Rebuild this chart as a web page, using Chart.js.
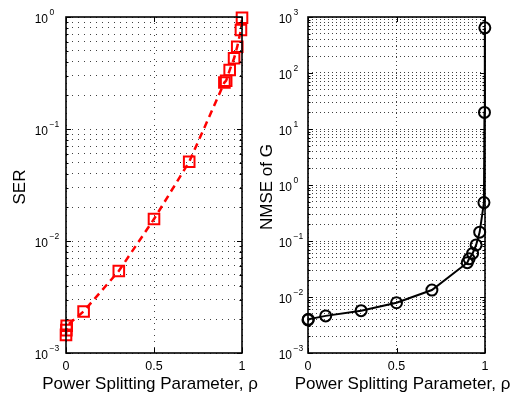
<!DOCTYPE html>
<html><head><meta charset="utf-8">
<script src="https://cdn.jsdelivr.net/npm/chart.js@4.4.0/dist/chart.umd.min.js"></script>
<style>
html,body{margin:0;padding:0;background:#fff;}
#wrap{position:relative;width:519px;height:394px;overflow:hidden;background:#fff;}
canvas{position:absolute;top:0;}
#c1{left:0;} #c2{left:250px;}
</style></head><body>
<div id="wrap">
<canvas id="c1" width="280" height="394"></canvas>
<canvas id="c2" width="269" height="394"></canvas>
</div>
<script>
// ---- data ----
const rhoSER = [0, 0.002, 0.004, 0.1, 0.3, 0.5, 0.7, 0.9, 0.91, 0.93, 0.955, 0.973, 0.994, 1.0];
const serValues = [1.45e-3, 1.6e-3, 1.75e-3, 2.35e-3, 5.4e-3, 1.57e-2, 5.1e-2, 0.26, 0.27, 0.336, 0.428, 0.543, 0.766, 0.985];
const rhoNMSE = [0, 0.002, 0.1, 0.3, 0.5, 0.7, 0.9, 0.91, 0.93, 0.95, 0.97, 0.994, 0.997, 0.999];
const nmseValues = [3.9e-3, 4.0e-3, 4.6e-3, 5.7e-3, 7.9e-3, 1.33e-2, 0.041, 0.048, 0.06, 0.085, 0.144, 0.486, 19.8, 641];
const xTicks = [0, 0.5, 1];
const xTickLabels = ['0', '0.5', '1'];
const serDecades = [-3, -2, -1, 0];
const nmseDecades = [-3, -2, -1, 0, 1, 2, 3];
const xLabel = 'Power Splitting Parameter, \u03C1';
const serLabel = 'SER';
const nmseLabel = 'NMSE of G';

const FONT = '"Liberation Sans", Arial, Helvetica, sans-serif';

function logTicks(decs) {
  const out = [];
  for (let i = 0; i < decs.length; i++) {
    const d = decs[i];
    if (i === decs.length - 1) { out.push({value: Math.pow(10, d)}); break; }
    for (let m = 1; m <= 9; m++) out.push({value: m * Math.pow(10, d), minor: m !== 1});
  }
  return out;
}

function framePlugin(opts) {
  return {
    id: 'frame' + opts.id,
    afterDraw(chart) {
      const ctx = chart.ctx, a = chart.chartArea;
      const xs = chart.scales.x, ys = chart.scales.y;
      ctx.save();
      ctx.strokeStyle = '#000'; ctx.lineWidth = 1;
      ys.ticks.forEach(t => {
        const y = Math.round(ys.getPixelForValue(t.value)) + 0.5;
        const len = t.minor ? 2.5 : 5;
        ctx.beginPath();
        ctx.moveTo(a.left, y); ctx.lineTo(a.left + len, y);
        ctx.moveTo(a.right, y); ctx.lineTo(a.right - len, y);
        ctx.stroke();
      });
      xs.ticks.forEach(t => {
        const x = Math.round(xs.getPixelForValue(t.value)) + 0.5;
        ctx.beginPath();
        ctx.moveTo(x, a.bottom); ctx.lineTo(x, a.bottom - 5);
        ctx.moveTo(x, a.top); ctx.lineTo(x, a.top + 5);
        ctx.stroke();
      });
      ctx.lineWidth = 1.6;
      ctx.strokeRect(a.left, a.top, a.right - a.left, a.bottom - a.top);
      ctx.fillStyle = '#000';
      opts.decades.forEach(d => {
        const y = ys.getPixelForValue(Math.pow(10, d));
        ctx.font = '12px ' + FONT;
        ctx.textAlign = 'right'; ctx.textBaseline = 'alphabetic';
        ctx.fillText('10', opts.tenRight, y + 6);
        ctx.font = '8.5px ' + FONT;
        ctx.textAlign = 'left';
        const e = d < 0 ? '\u2212' + (-d) : String(d);
        ctx.fillText(e, opts.tenRight + 1.5, y - 2);
      });
      ctx.font = '12.5px ' + FONT;
      ctx.textAlign = 'center'; ctx.textBaseline = 'alphabetic';
      xTicks.forEach((v, i) => {
        ctx.fillText(xTickLabels[i], xs.getPixelForValue(v), a.bottom + 17);
      });
      ctx.font = '17px ' + FONT;
      ctx.fillText(xLabel, (a.left + a.right) / 2 + opts.xTitleShift, a.bottom + 36);
      ctx.save();
      ctx.translate(opts.yTitleX, (a.top + a.bottom) / 2 + 2);
      ctx.rotate(-Math.PI / 2);
      ctx.textAlign = 'center'; ctx.textBaseline = 'middle';
      ctx.fillText(opts.yTitle, 0, 0);
      ctx.restore();
      ctx.restore();
    }
  };
}

function makeChart(id, cfg) {
  return new Chart(document.getElementById(id), {
    type: 'scatter',
    data: {
      datasets: [{
        data: cfg.xs.map((x, i) => ({x: x, y: cfg.ys[i]})),
        showLine: true,
        borderColor: cfg.color,
        backgroundColor: 'rgba(0,0,0,0)',
        borderWidth: cfg.lineWidth,
        borderDash: cfg.dash,
        pointStyle: cfg.pointStyle,
        pointRadius: cfg.pointRadius,
        pointHoverRadius: cfg.pointRadius,
        pointBorderWidth: 2,
        pointBorderColor: cfg.color,
        pointBackgroundColor: 'rgba(0,0,0,0)',
        tension: 0,
        clip: false
      }]
    },
    options: {
      responsive: false,
      animation: false,
      events: [],
      layout: {padding: {top: 17, right: cfg.padRight, left: 0, bottom: 0}},
      plugins: {legend: {display: false}, tooltip: {enabled: false}},
      scales: {
        x: {
          type: 'linear', min: 0, max: 1,
          afterBuildTicks: s => { s.ticks = xTicks.map(v => ({value: v})); },
          afterFit: s => { s.height = 41; },
          ticks: {display: false},
          grid: {color: 'rgba(0,0,0,0.75)', lineWidth: 1, drawTicks: false},
          border: {display: false, dash: cfg.gridDash}
        },
        y: {
          type: 'logarithmic',
          min: Math.pow(10, cfg.decades[0]), max: Math.pow(10, cfg.decades[cfg.decades.length - 1]),
          afterBuildTicks: s => { s.ticks = logTicks(cfg.decades); },
          afterFit: s => { s.width = cfg.yWidth; },
          ticks: {display: false},
          grid: {color: 'rgba(0,0,0,0.75)', lineWidth: 1, drawTicks: false},
          border: {display: false, dash: cfg.gridDash}
        }
      }
    },
    plugins: [framePlugin(cfg.frame)]
  });
}

makeChart('c1', {
  xs: rhoSER, ys: serValues, color: '#ff0000', lineWidth: 2.5, dash: [7, 5],
  pointStyle: 'rect', pointRadius: 7.5, decades: serDecades,
  padRight: 38, yWidth: 66, gridDash: [1, 5],
  frame: {id: 1, decades: serDecades, tenRight: 48, yTitle: serLabel, yTitleX: 20, xTitleShift: -4}
});
makeChart('c2', {
  xs: rhoNMSE, ys: nmseValues, color: '#000000', lineWidth: 2, dash: [],
  pointStyle: 'circle', pointRadius: 5.5, decades: nmseDecades,
  padRight: 34, yWidth: 58, gridDash: [1, 3],
  frame: {id: 2, decades: nmseDecades, tenRight: 42, yTitle: nmseLabel, yTitleX: 17, xTitleShift: 6}
});
</script>
</body></html>
